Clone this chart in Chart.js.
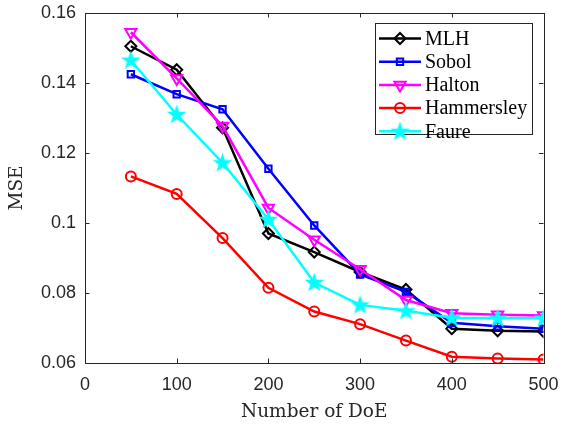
<!DOCTYPE html>
<html>
<head>
<meta charset="utf-8">
<title>MSE vs Number of DoE</title>
<script src="https://cdn.jsdelivr.net/npm/chart.js@4.4.1/dist/chart.umd.min.js"></script>
<style>
    html, body { margin: 0; padding: 0; background: #ffffff; }
    #wrap { width: 561px; height: 424px; }
</style>
</head>
<body>
<div id="wrap"><canvas id="lineChart" width="561" height="424"></canvas></div>
<script>
// Data
const doe = [50, 100, 150, 200, 250, 300, 350, 400, 450, 500];
const mlh = [0.1505, 0.1438, 0.1272, 0.0970, 0.0917, 0.0860, 0.0810, 0.0698, 0.0692, 0.0690];
const sobol = [0.1425, 0.1368, 0.1325, 0.1155, 0.0993, 0.0853, 0.0803, 0.0715, 0.0705, 0.0698];
const halton = [0.1545, 0.1413, 0.1277, 0.1043, 0.0952, 0.0868, 0.0780, 0.0742, 0.0738, 0.0736];
const hammersley = [0.1133, 0.1083, 0.0957, 0.0815, 0.0747, 0.0711, 0.0664, 0.0618, 0.0613, 0.0610];
const faure = [0.1465, 0.1310, 0.1172, 0.1010, 0.0830, 0.0766, 0.0749, 0.0729, 0.0728, 0.0728];

const xTicks = [0, 100, 200, 300, 400, 500];
const yTicks = [0.06, 0.08, 0.1, 0.12, 0.14, 0.16];

const axisColor = '#262626';

// Filled pentagram marker for the Faure series
function makeStar(color) {
    const c = document.createElement('canvas');
    c.width = 19;
    c.height = 19;
    const g = c.getContext('2d');
    const outer = 8.5, inner = 3.4;
    g.beginPath();
    for (let i = 0; i < 10; i++) {
        const r = i % 2 === 0 ? outer : inner;
        const a = -Math.PI / 2 + i * Math.PI / 5;
        const px = 9.5 + r * Math.cos(a);
        const py = 10 + r * Math.sin(a);
        if (i === 0) g.moveTo(px, py); else g.lineTo(px, py);
    }
    g.closePath();
    g.fillStyle = color;
    g.fill();
    g.strokeStyle = color;
    g.lineWidth = 1.2;
    g.stroke();
    return c;
}

function toPoints(values) {
    return doe.map((x, i) => ({ x: x, y: values[i] }));
}

const hollow = 'rgba(0,0,0,0)';

const datasets = [
    { label: 'MLH', data: toPoints(mlh), borderColor: '#000000', pointBorderColor: '#000000',
      pointBackgroundColor: hollow, pointStyle: 'rectRot', pointRadius: 5.5, order: 5 },
    { label: 'Sobol', data: toPoints(sobol), borderColor: '#0000ff', pointBorderColor: '#0000ff',
      pointBackgroundColor: hollow, pointStyle: 'rect', pointRadius: 4.5, order: 4 },
    { label: 'Halton', data: toPoints(halton), borderColor: '#ff00ff', pointBorderColor: '#ff00ff',
      pointBackgroundColor: hollow, pointStyle: 'triangle', pointRotation: 180, pointRadius: 6.5, order: 3 },
    { label: 'Hammersley', data: toPoints(hammersley), borderColor: '#ff0000', pointBorderColor: '#ff0000',
      pointBackgroundColor: hollow, pointStyle: 'circle', pointRadius: 5, order: 2 },
    { label: 'Faure', data: toPoints(faure), borderColor: '#00ffff', pointBorderColor: '#00ffff',
      pointBackgroundColor: '#00ffff', pointStyle: makeStar('#00ffff'), pointRadius: 8, order: 1 }
];
datasets.forEach(d => {
    d.borderWidth = 2.5;
    d.pointBorderWidth = 2;
    d.fill = false;
    d.tension = 0;
});

// Box with inward ticks on all four sides, like MATLAB
const boxPlugin = {
    id: 'boxPlugin',
    afterDatasetsDraw(chart) {
        const { ctx, chartArea: a, scales } = chart;
        const len = 4.5;
        ctx.save();
        ctx.strokeStyle = axisColor;
        ctx.lineWidth = 1;
        ctx.beginPath();
        xTicks.forEach(v => {
            const px = Math.round(scales.x.getPixelForValue(v)) + 0.5;
            ctx.moveTo(px, a.bottom); ctx.lineTo(px, a.bottom - len);
            ctx.moveTo(px, a.top); ctx.lineTo(px, a.top + len);
        });
        yTicks.forEach(v => {
            const py = Math.round(scales.y.getPixelForValue(v)) + 0.5;
            ctx.moveTo(a.left, py); ctx.lineTo(a.left + len, py);
            ctx.moveTo(a.right, py); ctx.lineTo(a.right - len, py);
        });
        ctx.stroke();
        ctx.strokeRect(Math.round(a.left) + 0.5, Math.round(a.top) + 0.5,
            Math.round(a.right - a.left), Math.round(a.bottom - a.top));
        ctx.restore();
    }
};

// Legend drawn inside the axes, line sample with marker
const legendPlugin = {
    id: 'legendPlugin',
    afterDraw(chart) {
        const { ctx } = chart;
        const boxX = 375.5, boxY = 23.5, boxW = 157, boxH = 111;
        const rowY0 = 38.5, rowStep = 23.2;
        ctx.save();
        ctx.fillStyle = '#ffffff';
        ctx.fillRect(boxX, boxY, boxW, boxH);
        ctx.strokeStyle = axisColor;
        ctx.lineWidth = 1;
        ctx.strokeRect(boxX, boxY, boxW, boxH);
        ctx.font = '20px "Liberation Serif"';
        ctx.textBaseline = 'middle';
        chart.data.datasets.forEach((d, i) => {
            const y = rowY0 + i * rowStep;
            ctx.strokeStyle = d.borderColor;
            ctx.lineWidth = d.borderWidth;
            ctx.beginPath();
            ctx.moveTo(379, y);
            ctx.lineTo(421, y);
            ctx.stroke();
            ctx.fillStyle = d.pointBackgroundColor;
            ctx.strokeStyle = d.pointBorderColor;
            ctx.lineWidth = d.pointBorderWidth;
            if (Chart.helpers && Chart.helpers.drawPoint) {
                Chart.helpers.drawPoint(ctx, {
                    pointStyle: d.pointStyle,
                    rotation: d.pointRotation || 0,
                    radius: d.pointRadius,
                    borderWidth: d.pointBorderWidth
                }, 400, y);
            }
            ctx.fillStyle = '#000000';
            ctx.fillText(d.label, 425, y + 1);
        });
        ctx.restore();
    }
};

const ctxLine = document.getElementById('lineChart').getContext('2d');
const lineChart = new Chart(ctxLine, {
    type: 'line',
    data: { datasets: datasets },
    options: {
        responsive: false,
        animation: false,
        devicePixelRatio: 1,
        layout: { padding: { top: 13, right: 17.5, left: 0, bottom: 0 } },
        plugins: {
            legend: { display: false },
            tooltip: { enabled: false }
        },
        scales: {
            x: {
                type: 'linear',
                min: 0,
                max: 500,
                afterBuildTicks: scale => { scale.ticks = xTicks.map(v => ({ value: v })); },
                afterFit: scale => {
                    scale.height = 61;
                    scale.paddingLeft = 0;
                    scale.paddingRight = 0;
                },
                grid: { display: false, drawTicks: false },
                border: { display: false },
                ticks: {
                    color: axisColor,
                    padding: 11,
                    font: { family: '"Liberation Sans", Arial', size: 18 },
                    maxRotation: 0
                },
                title: {
                    display: true,
                    text: 'Number of DoE',
                    color: axisColor,
                    font: { family: '"DejaVu Serif"', size: 18.5 },
                    padding: { top: 0, bottom: 1 }
                }
            },
            y: {
                type: 'linear',
                min: 0.06,
                max: 0.16,
                afterBuildTicks: scale => { scale.ticks = yTicks.map(v => ({ value: v })); },
                afterFit: scale => {
                    scale.width = 85;
                    scale.paddingTop = 0;
                    scale.paddingBottom = 0;
                },
                grid: { display: false, drawTicks: false },
                border: { display: false },
                ticks: {
                    color: axisColor,
                    padding: 9,
                    font: { family: '"Liberation Sans", Arial', size: 18 },
                    callback: v => String(Number(v.toFixed(2)))
                },
                title: {
                    display: true,
                    text: 'MSE',
                    color: axisColor,
                    font: { family: '"DejaVu Serif"', size: 18.5 },
                    padding: { top: 6, bottom: 0 }
                }
            }
        }
    },
    plugins: [boxPlugin, legendPlugin]
});
</script>
</body>
</html>
